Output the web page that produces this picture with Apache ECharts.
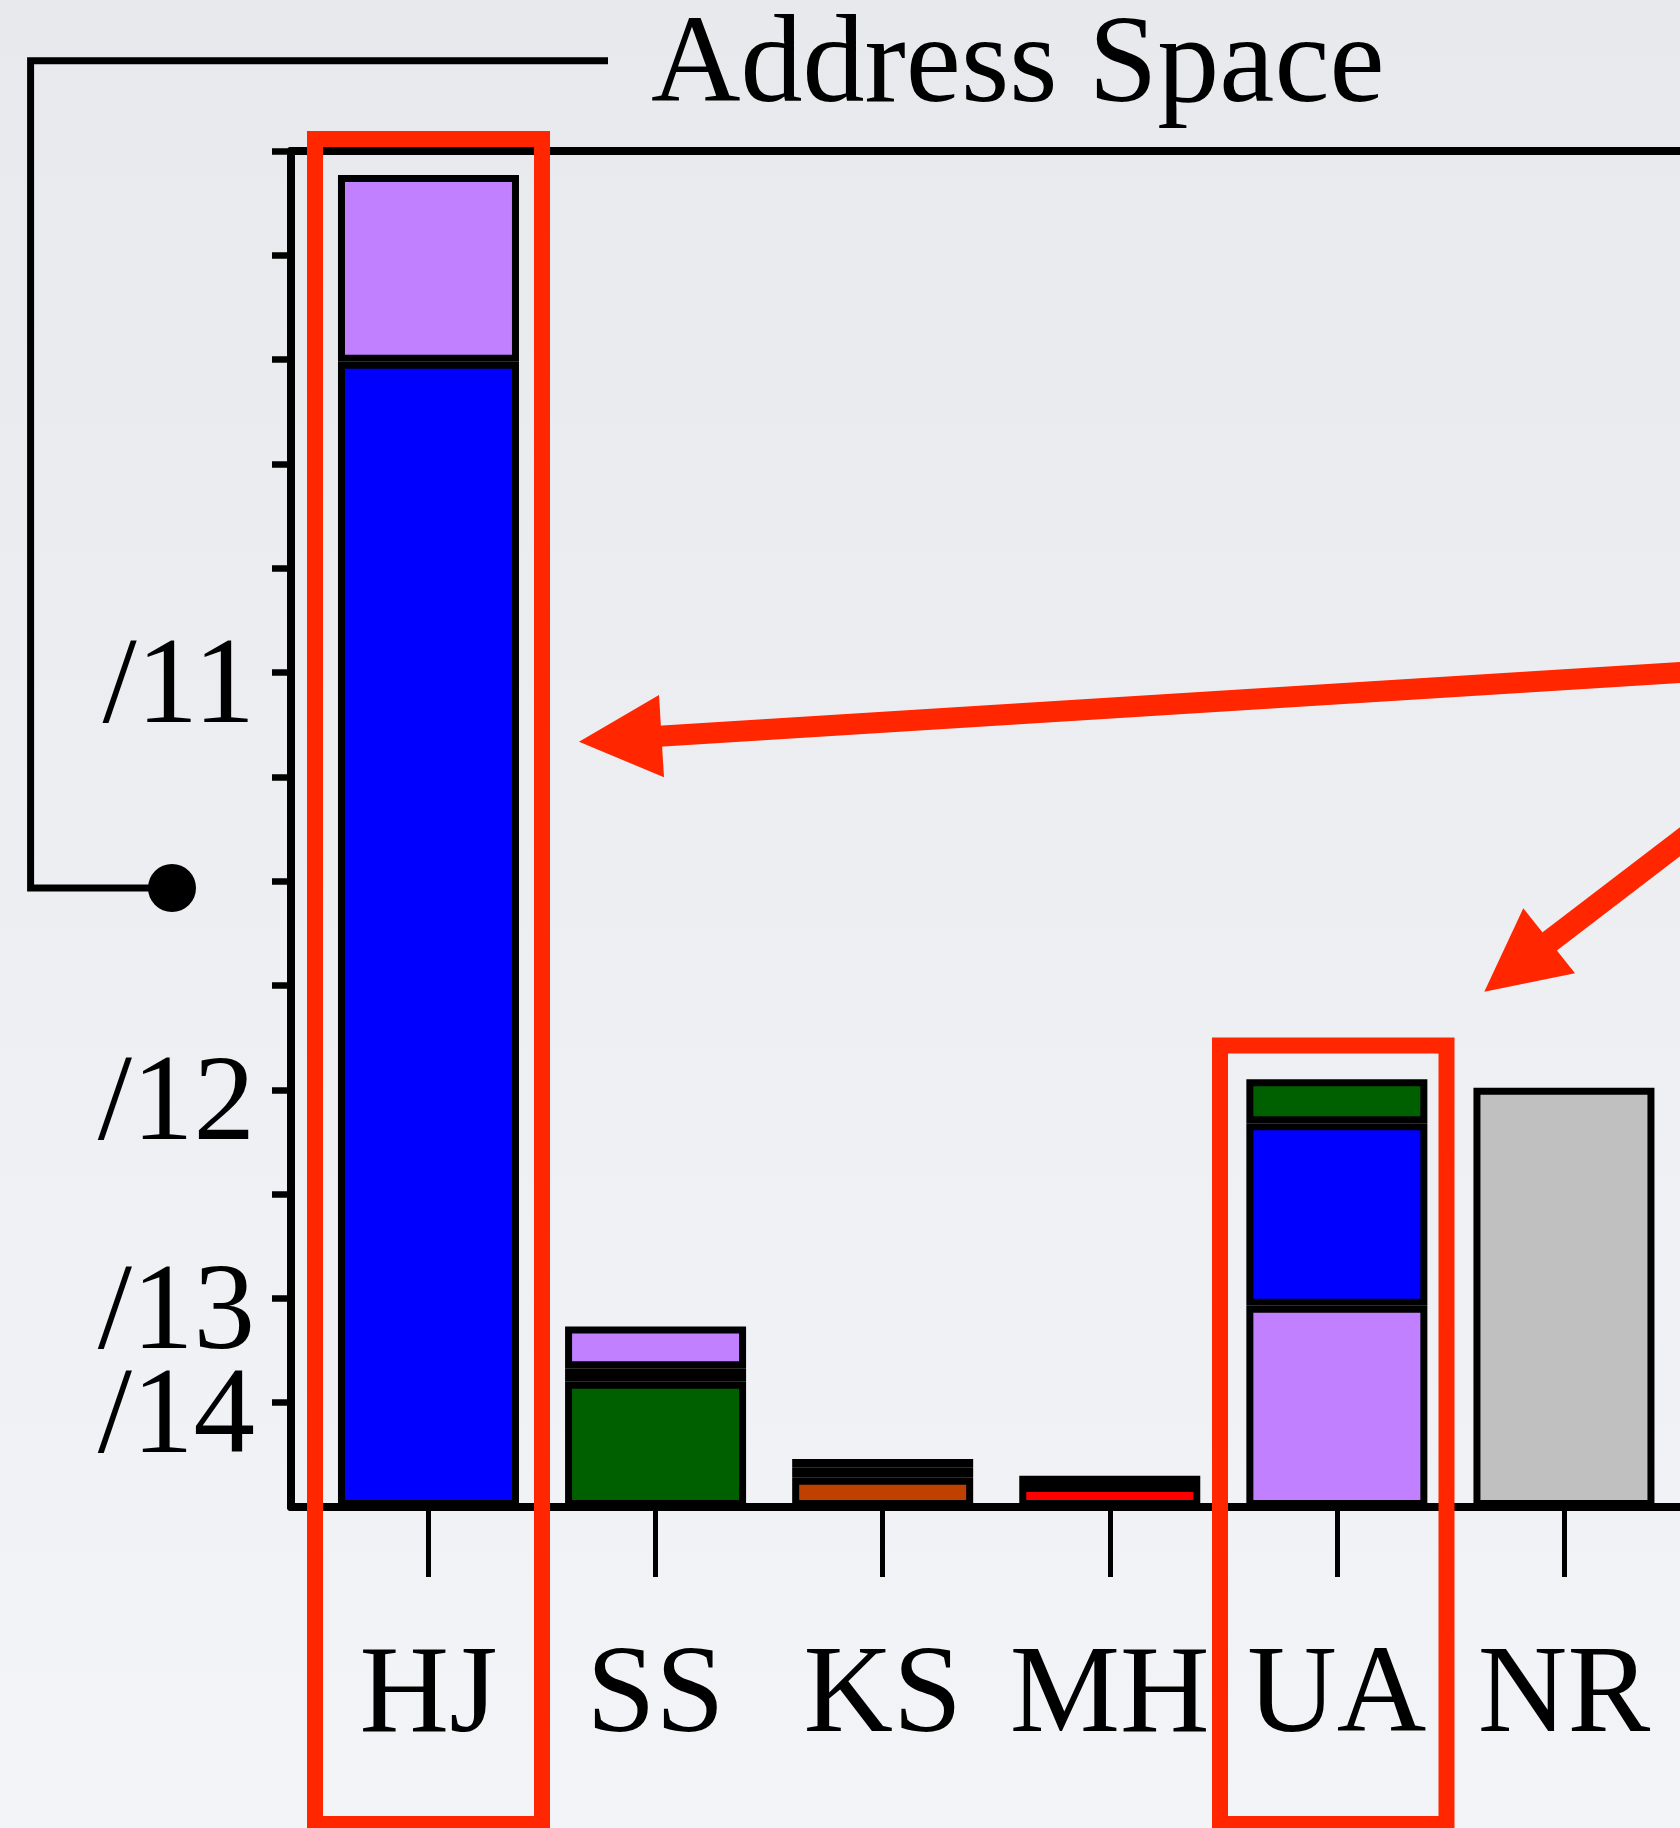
<!DOCTYPE html>
<html><head><meta charset="utf-8">
<script src="https://cdn.jsdelivr.net/npm/echarts@6/dist/echarts.min.js"></script>
<style>html,body{margin:0;padding:0;background:#eceef2;}#c{width:1680px;height:1828px;}</style>
</head><body><div id="c"></div>
<script>
// ---- data ----
const categories   = ['HJ', 'SS', 'KS', 'MH', 'UA', 'NR'];
const blueValues   = [10.98, null, null, null, 1.75, null];
const purpleValues = [1.79, 0.40, 0.08, 0.09, 1.93, null];
const greenValues  = [null, 1.20, 0.10, null, 0.42, null];
const orangeValues = [null, 0.13, 0.28, null, null, null];
const redValues    = [null, null, null, 0.21, null, null];
const greyValues   = [null, null, null, null, null, 4.02];
// bottom-to-top order of segments in each column
const stackOrder = [
  ['blue', 'purple'],
  ['green', 'orange', 'purple'],
  ['orange', 'green', 'purple'],
  ['red', 'purple'],
  ['purple', 'blue', 'green'],
  ['grey']
];
const yTickValues  = [1, 2, 3, 4, 5, 6, 7, 8, 9, 10, 11, 12, 13];
const yLabelValues = [1, 2, 4, 8];
const yLabelTexts  = ['/14', '/13', '/12', '/11'];
const titleText = 'Address Space';

// ---- build ----
const seriesValues = {blue: blueValues, purple: purpleValues, green: greenValues,
  orange: orangeValues, red: redValues, grey: greyValues};
const palette = {blue: '#0000ff', purple: '#c080ff', green: '#006000',
  orange: '#c04000', red: '#ff0000', grey: '#c0c0c0'};
const FONT = '"Liberation Serif", "Times New Roman", serif';
const RED = '#ff2600';

const nLayers = Math.max(...stackOrder.map(s => s.length));
const series = [];
for (let L = 0; L < nLayers; L++) {
  series.push({
    type: 'bar', stack: 'total', barWidth: 181,
    xAxisIndex: 0, yAxisIndex: 0,
    encode: {x: 1, y: 0},
    itemStyle: {borderColor: '#000', borderWidth: 7},
    emphasis: {disabled: true},
    data: categories.map((c, i) => {
      const key = stackOrder[i][L];
      if (!key) return {value: ['-', i]};
      return {value: [seriesValues[key][i], i], itemStyle: {color: palette[key]}};
    })
  });
}

const yLabelFmt = v => yLabelTexts[yLabelValues.indexOf(v)] || '';
const yLabelStyle = {margin: 36, hideOverlap: false, formatter: yLabelFmt,
  fontFamily: FONT, fontSize: 123, lineHeight: 34, verticalAlign: 'top', color: '#000'};

const chart = echarts.init(document.getElementById('c'), null, {renderer: 'canvas'});
chart.setOption({
  animation: false,
  backgroundColor: {type: 'linear', x: 0, y: 0, x2: 0, y2: 1,
    colorStops: [{offset: 0, color: '#e7e9ed'}, {offset: 1, color: '#f3f4f8'}]},
  grid: {left: 291, top: 151, right: 0, bottom: 321, containLabel: false, outerBoundsMode: 'none'},
  xAxis: [{
    type: 'value', min: -0.6054, max: 5.511, position: 'bottom',
    splitLine: {show: false},
    axisLine: {show: true, lineStyle: {color: '#000', width: 8}},
    axisTick: {show: true, customValues: categories.map((c, i) => i), length: 70,
      lineStyle: {color: '#000', width: 5}},
    axisLabel: {customValues: categories.map((c, i) => i), margin: 129, hideOverlap: false,
      formatter: v => categories[Math.round(v)] || '',
      fontFamily: FONT, fontSize: 124, lineHeight: 124, color: '#000'}
  }, {
    type: 'value', min: -0.6054, max: 5.511, position: 'top',
    splitLine: {show: false},
    axisLine: {show: true, onZero: false, lineStyle: {color: '#000', width: 8}},
    axisTick: {show: false}, axisLabel: {show: false}
  }],
  yAxis: [{
    // main axis: line, all ticks, labels at even positions of yLabelValues
    type: 'value', min: 0, max: 13, interval: 1, position: 'left', offset: 0,
    splitLine: {show: false},
    axisLine: {show: true, onZero: false, lineStyle: {color: '#000', width: 8}},
    axisTick: {show: true, customValues: yTickValues, length: 19,
      lineStyle: {color: '#000', width: 6.5}},
    axisLabel: Object.assign({customValues: yLabelValues.filter((v, i) => i % 2 === 0)}, yLabelStyle)
  }, {
    // companion axis at the same place carrying the remaining labels
    type: 'value', min: 0, max: 13, interval: 1, position: 'left', offset: 0,
    splitLine: {show: false},
    axisLine: {show: false}, axisTick: {show: false},
    axisLabel: Object.assign({customValues: yLabelValues.filter((v, i) => i % 2 === 1)}, yLabelStyle)
  }],
  series: series,
  graphic: [
    {type: 'text', x: 651, y: 68, z: 100,
      style: {text: titleText, fontFamily: FONT, fontSize: 124, fill: '#000',
        verticalAlign: 'middle', align: 'left'}},
    {type: 'polyline', z: 100,
      shape: {points: [[608, 60.7], [30.6, 60.7], [30.6, 888], [172, 888]]},
      style: {stroke: '#000', lineWidth: 7, fill: null}},
    {type: 'circle', z: 100, shape: {cx: 172, cy: 888, r: 24}, style: {fill: '#000'}},
    {type: 'rect', z: 100, shape: {x: 315, y: 139, width: 227, height: 1685},
      style: {stroke: RED, lineWidth: 16, fill: null}},
    {type: 'rect', z: 100, shape: {x: 1220, y: 1045.5, width: 226.5, height: 778.5},
      style: {stroke: RED, lineWidth: 16, fill: null}},
    {type: 'line', z: 100, shape: {x1: 1700, y1: 671.2, x2: 655, y2: 736.5},
      style: {stroke: RED, lineWidth: 21}},
    {type: 'polygon', z: 100, shape: {points: [[579, 741.7], [659, 695], [664, 777.3]]},
      style: {fill: RED}},
    {type: 'line', z: 100, shape: {x1: 1700, y1: 826.4, x2: 1545, y2: 945},
      style: {stroke: RED, lineWidth: 23}},
    {type: 'polygon', z: 100, shape: {points: [[1484.3, 991.7], [1523.3, 908.3], [1575, 973.3]]},
      style: {fill: RED}}
  ]
});
</script></body></html>
